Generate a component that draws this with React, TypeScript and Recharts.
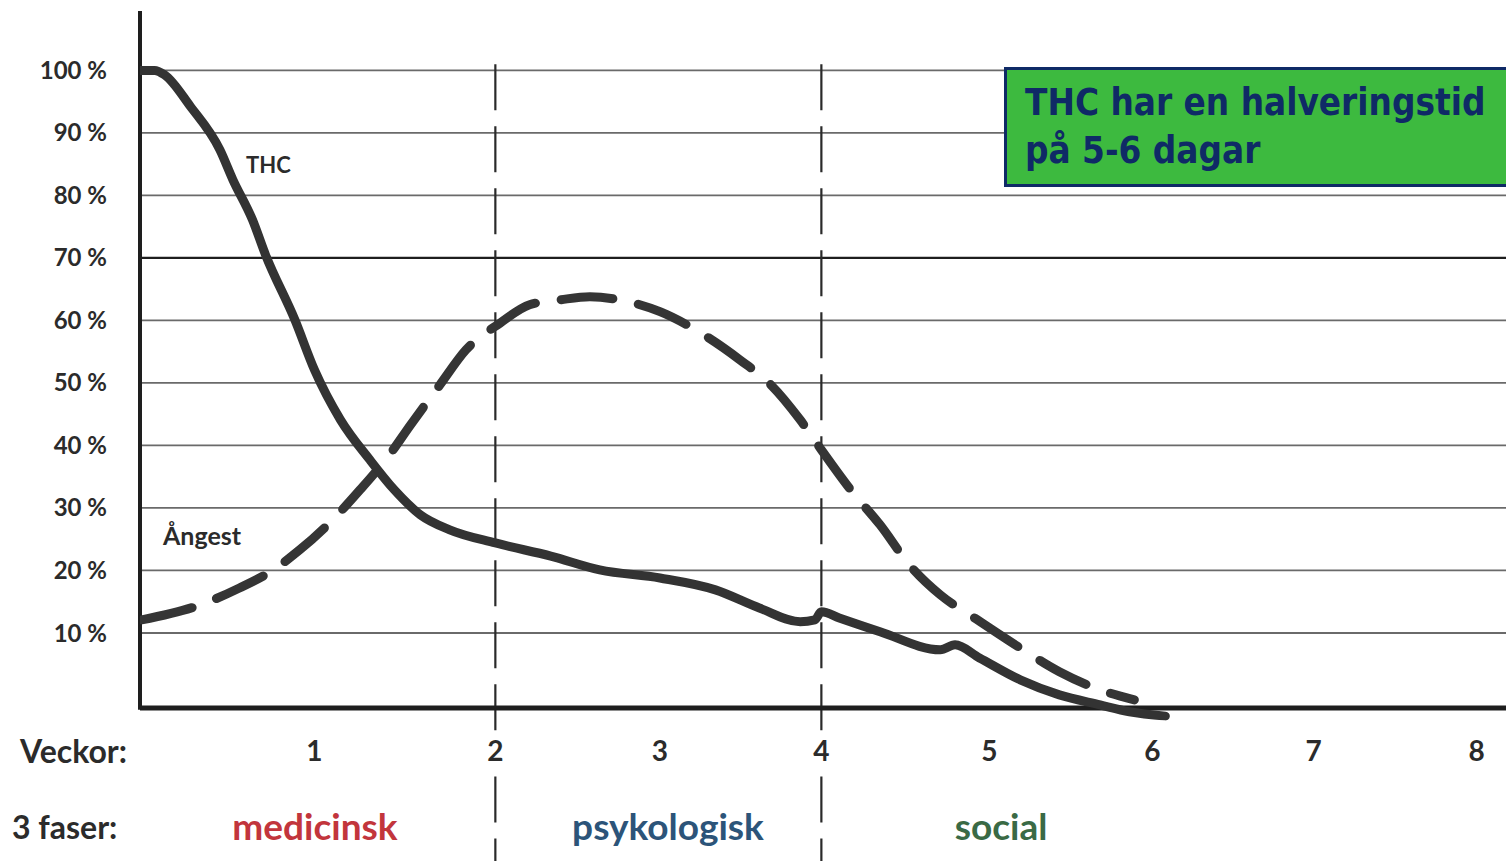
import React from 'react';
import { LineChart, Line, XAxis, YAxis, ReferenceLine } from 'recharts';

// Week tick positions (hand-drawn axis, slightly uneven spacing) and their labels
const weekTicks = [1.07, 2.18, 3.19, 4.18, 5.21, 6.21, 7.2, 8.2];
const weekLabels = ['1', '2', '3', '4', '5', '6', '7', '8'];
const percentTicks = [10, 20, 30, 40, 50, 60, 70, 80, 90, 100];
const phaseBoundaries = [2.18, 4.18];

// THC curve (%)
const thcX = [0, 0.09, 0.15, 0.31, 0.49, 0.57, 0.69, 0.77, 0.95, 1.07, 1.23, 1.41, 1.56, 1.72, 1.9, 2.18, 2.52, 2.82, 3.19, 3.53, 3.8, 4.05, 4.14, 4.18, 4.29, 4.54, 4.91, 5.0, 5.15, 5.4, 5.64, 5.89, 6.07, 6.29];
const thcY = [100, 100, 99.3, 94.2, 87.3, 82.5, 76.1, 70.5, 60.1, 52.1, 44.1, 37.7, 32.9, 28.9, 26.5, 24.4, 22.3, 20.1, 18.8, 16.9, 14.0, 11.8, 12.1, 13.4, 12.4, 10.2, 7.3, 8.1, 6.0, 2.5, 0.1, -1.5, -2.6, -3.3];

// Ångest curve (%)
const angestX = [0.01, 0.37, 0.61, 0.8, 0.98, 1.17, 1.35, 1.53, 1.66, 1.84, 2.0, 2.21, 2.39, 2.58, 2.76, 2.94, 3.19, 3.44, 3.68, 3.87, 4.05, 4.18, 4.36, 4.54, 4.72, 4.91, 5.12, 5.4, 5.64, 5.89, 6.1];
const angestY = [12.1, 14.5, 17.2, 19.8, 23.3, 27.8, 32.9, 38.5, 43.3, 49.7, 55.3, 59.6, 62.5, 63.3, 63.8, 63.3, 61.4, 58.0, 53.7, 49.7, 44.1, 39.3, 32.9, 27.3, 20.9, 16.1, 12.4, 7.6, 3.8, 0.9, -0.7];

const phaseNames = ['medicinsk', 'psykologisk', 'social'];
const phaseColors = ['#c2353c', '#2c5479', '#3a6a45'];

const thcData = thcX.map((x, i) => ({ x, y: thcY[i] }));
const angestData = angestX.map((x, i) => ({ x, y: angestY[i] }));

const FONT = 'Lato, "Open Sans", sans-serif';

const DashedPhaseLine = (props: any) => {
  const top = Math.min(props.y1, props.y2);
  const bottom = Math.max(props.y1, props.y2);
  const common = { x1: props.x1, x2: props.x2, stroke: '#2a2a2a', strokeWidth: 2.2, strokeDasharray: '46 16' };
  return (
    <g>
      <line {...common} y1={top} y2={bottom + 12} />
      <line {...common} y1={bottom + 56} y2={861} />
    </g>
  );
};

export default function App() {
  return (
    <div style={{ position: 'absolute', left: 0, top: 0, width: 1506, height: 861, background: '#fff', fontFamily: FONT, overflow: 'hidden' }}>
      <LineChart width={1506} height={861} margin={{ top: 11, right: 0, bottom: 110.5, left: 0 }}>
        <XAxis
          type="number"
          dataKey="x"
          domain={[0, 8.38]}
          ticks={weekTicks}
          tickFormatter={(v: number) => weekLabels[weekTicks.indexOf(v)] ?? ''}
          axisLine={false}
          tickLine={false}
          tickSize={0}
          tickMargin={21}
          height={30}
          interval={0}
          allowDataOverflow
          tick={{ fill: '#2b2b2b', fontSize: 28, fontWeight: 700, fontFamily: FONT }}
        />
        <YAxis
          type="number"
          domain={[-4, 109.5]}
          ticks={percentTicks}
          width={140}
          allowDataOverflow
          axisLine={false}
          tickLine={false}
          tickSize={0}
          tickMargin={33}
          interval={0}
          tickFormatter={(v: number) => `${v} %`}
          tick={{ fill: '#2b2b2b', fontSize: 24, fontWeight: 700, fontFamily: FONT }}
        />
        {percentTicks.map((t) => (
          <ReferenceLine
            key={t}
            y={t}
            stroke={t === 70 ? '#1e1e1e' : '#6a6a6a'}
            strokeWidth={t === 70 ? 2.4 : 1.8}
          />
        ))}
        {phaseBoundaries.map((b) => (
          <ReferenceLine key={b} segment={[{ x: b, y: 101 }, { x: b, y: -4 }]} shape={DashedPhaseLine} />
        ))}
        <ReferenceLine segment={[{ x: 0, y: -2 }, { x: 8.38, y: -2 }]} stroke="#1e1e1e" strokeWidth={5} />
        <ReferenceLine segment={[{ x: 0, y: -2.3 }, { x: 0, y: 109.5 }]} stroke="#1e1e1e" strokeWidth={4} />
        <Line
          data={angestData}
          dataKey="y"
          type="monotone"
          stroke="#353535"
          strokeWidth={9}
          strokeDasharray="52 26"
          strokeLinecap="round"
          dot={false}
          isAnimationActive={false}
        />
        <Line
          data={thcData}
          dataKey="y"
          type="monotone"
          stroke="#333333"
          strokeWidth={9}
          strokeLinecap="round"
          strokeLinejoin="round"
          dot={false}
          isAnimationActive={false}
        />
      </LineChart>

      <div style={{ position: 'absolute', left: 246, top: 151, fontSize: 22, fontWeight: 700, color: '#2b2b2b' }}>THC</div>
      <div style={{ position: 'absolute', left: 163, top: 520, fontSize: 25, fontWeight: 700, color: '#2b2b2b' }}>Ångest</div>

      <div style={{ position: 'absolute', left: 20, top: 731, fontSize: 32, fontWeight: 700, color: '#2b2b2b' }}>Veckor:</div>
      <div style={{ position: 'absolute', left: 12, top: 807, fontSize: 32, fontWeight: 700, color: '#2b2b2b' }}>3 faser:</div>
      {phaseNames.map((n, i) => (
        <div
          key={n}
          style={{
            position: 'absolute',
            left: [315, 668, 1001][i] - 150,
            width: 300,
            textAlign: 'center',
            top: 803,
            fontSize: 37,
            fontWeight: 700,
            color: phaseColors[i],
          }}
        >
          {n}
        </div>
      ))}

      <div
        style={{
          position: 'absolute',
          left: 1004,
          top: 67,
          width: 520,
          height: 120,
          background: '#3dba3f',
          border: '3px solid #0f2a66',
          boxSizing: 'border-box',
          color: '#0f2a66',
          fontFamily: '"DejaVu Sans Condensed", "DejaVu Sans", sans-serif',
          fontWeight: 700,
          fontSize: 36.5,
          lineHeight: '48px',
          padding: '9px 0 0 18px',
        }}
      >
        THC har en halveringstid
        <br />
        på 5-6 dagar
      </div>
    </div>
  );
}
